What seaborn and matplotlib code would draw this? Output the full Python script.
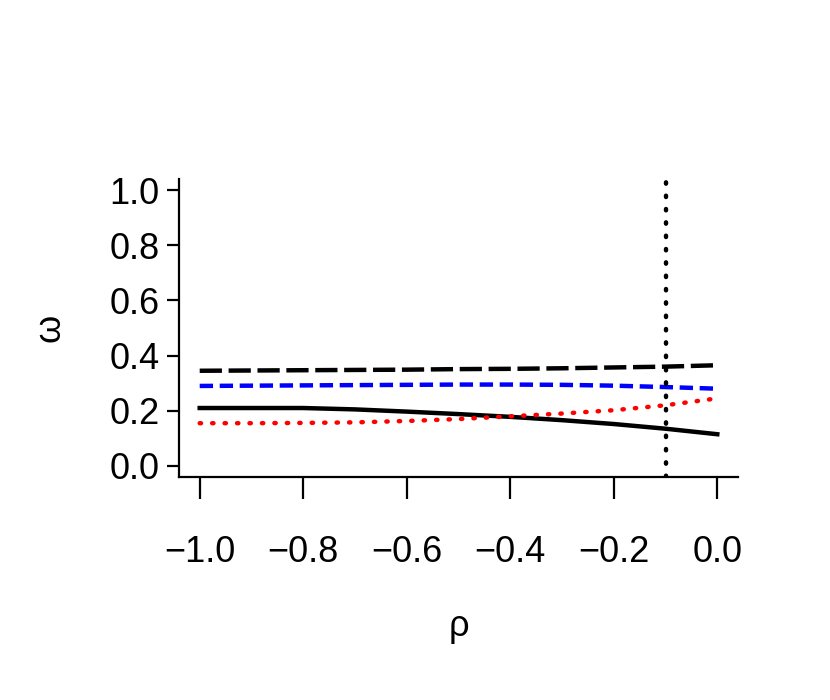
import matplotlib
matplotlib.use("Agg")
import matplotlib.pyplot as plt
import seaborn as sns
import pandas as pd

rho = [-1.0, -0.9, -0.8, -0.7, -0.6, -0.5, -0.4, -0.3, -0.2, -0.1, 0.0]
solid_black = [0.21, 0.21, 0.21, 0.205, 0.197, 0.188, 0.178, 0.166, 0.152, 0.135, 0.115]
dotted_red = [0.155, 0.155, 0.156, 0.158, 0.163, 0.17, 0.18, 0.19, 0.202, 0.22, 0.245]
dashed_blue = [0.29, 0.291, 0.292, 0.293, 0.294, 0.295, 0.295, 0.294, 0.291, 0.286, 0.28]
longdash_black = [0.345, 0.346, 0.347, 0.348, 0.349, 0.351, 0.352, 0.354, 0.357, 0.36, 0.365]
vline_x = -0.1
xticks = [-1.0, -0.8, -0.6, -0.4, -0.2, 0.0]
yticks = [0.0, 0.2, 0.4, 0.6, 0.8, 1.0]

plt.rcParams["font.family"] = "Liberation Sans"
fig = plt.figure(figsize=(8.3, 7), dpi=100)
ax = fig.add_axes([179/830, 1-477/700, (738-179)/830, (477-179)/700])

df = pd.DataFrame({"rho": rho, "a": solid_black, "b": dotted_red, "c": dashed_blue, "d": longdash_black})
lw = 3.2
sns.lineplot(data=df, x="rho", y="a", ax=ax, color="black", lw=lw)
sns.lineplot(data=df, x="rho", y="b", ax=ax, color="red", lw=lw, linestyle=(0, (0.3, 2.5)), dash_capstyle="round")
sns.lineplot(data=df, x="rho", y="c", ax=ax, color="blue", lw=lw, linestyle=(0, (3, 1.5)))
sns.lineplot(data=df, x="rho", y="d", ax=ax, color="black", lw=lw, linestyle=(0, (5, 1.5)))
ax.axvline(vline_x, color="black", lw=lw, linestyle=(0, (0.3, 2.7)), dash_capstyle="round")

ax.set_xlim(-1.04, 0.04)
ax.set_ylim(-0.04, 1.04)
ax.set_xticks(xticks)
ax.set_yticks(yticks)
ax.set_xticklabels(["\u22121.0", "\u22120.8", "\u22120.6", "\u22120.4", "\u22120.2", "0.0"])
ax.set_yticklabels([f"{v:.1f}" for v in yticks])
for s in ["top", "right"]:
    ax.spines[s].set_visible(False)
for s in ["left", "bottom"]:
    ax.spines[s].set_linewidth(1.6)
ax.tick_params(axis="x", length=16, width=1.6, labelsize=26, pad=26)
ax.tick_params(axis="y", length=9, width=1.6, labelsize=26, pad=5)
ax.set_xlabel("\u03c1", fontsize=26, labelpad=28)
ax.set_ylabel("\u03c9", fontsize=26, labelpad=30)
fig.savefig("out.png", dpi=100)
